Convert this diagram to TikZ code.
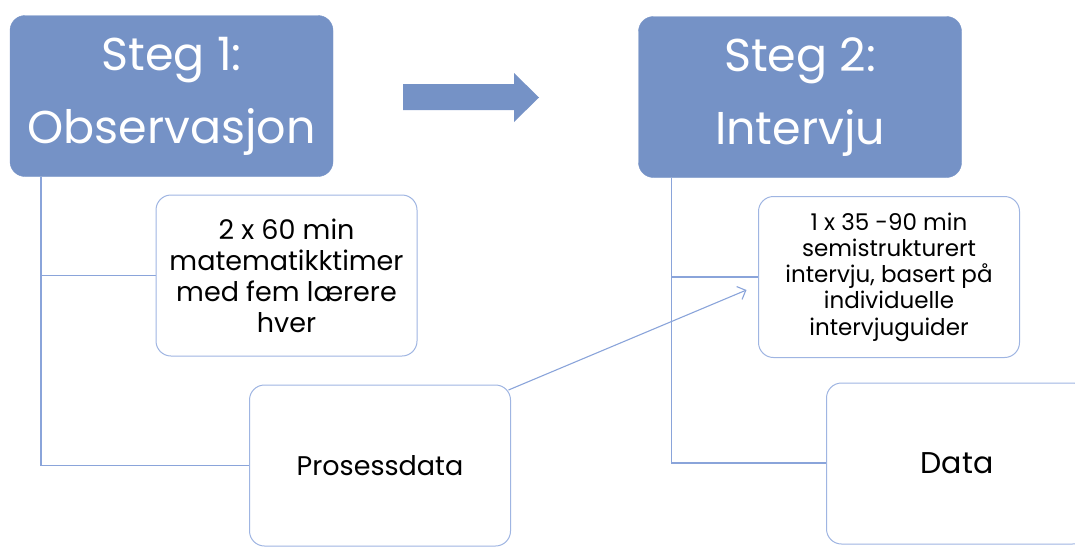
\documentclass[tikz,border=0pt]{standalone}
\usepackage{fontspec}
\setmainfont{Poppins}
\usetikzlibrary{arrows.meta}
\definecolor{boxblue}{HTML}{7592C6}
\definecolor{edgeblue}{HTML}{9FB5E2}
\definecolor{lineblue}{HTML}{8AA4DA}
\begin{document}
\begin{tikzpicture}[x=1pt,y=-1pt,
  stepbox/.style={draw=boxblue, fill=boxblue, rounded corners=15pt, minimum width=323pt, minimum height=161pt, inner sep=0pt, outer sep=0pt, text=white, align=center, font=\fontsize{46}{73}\selectfont},
  infobox/.style={draw=edgeblue, line width=1pt, fill=white, rounded corners=15pt, minimum width=261pt, minimum height=161pt, inner sep=0pt, outer sep=0pt, align=center},
  conn/.style={draw=lineblue, line width=1.1pt}]
\useasboundingbox (0,0) rectangle (1075,546);
\node[stepbox] (s1) at (171.5,96) {Steg 1:\\Observasjon};
\node[stepbox] (s2) at (800,97) {Steg 2:\\Intervju};
\draw[conn] ([xshift=31pt]s1.south west) |- (380,275.5);
\draw[conn] ([xshift=31pt]s1.south west) |- (380,465.5);
\draw[conn] ([xshift=33pt]s2.south west) |- (900,277);
\draw[conn] ([xshift=33pt]s2.south west) |- (900,463);
\node[infobox, font=\fontsize{27}{31}\selectfont] (c1a) at (286.5,275.5) {2 x 60 min\\matematikktimer\\med fem lærere\\hver};
\node[infobox, font=\fontsize{27}{31}\selectfont] (c1b) at (380,465.5) {Prosessdata};
\node[infobox, font=\fontsize{23}{26.3}\selectfont] (c2a) at (889,277) {1 x 35 -90 min\\semistrukturert\\intervju, basert på\\individuelle\\intervjuguider};
\node[infobox, font=\fontsize{30}{34}\selectfont] (c2b) at (957,463.5) {Data};
\fill[boxblue] (403,84) -- (514,84) -- (514,73) -- (539,97.5) -- (514,122) -- (514,110) -- (403,110) -- cycle;
\coordinate (tip) at ([shift={(-12,13)}]c2a.west);
\draw[conn, -{Straight Barb[length=7pt,width=14pt]}] ([shift={(-2,5)}]c1b.north east) -- (tip);
\end{tikzpicture}
\end{document}
